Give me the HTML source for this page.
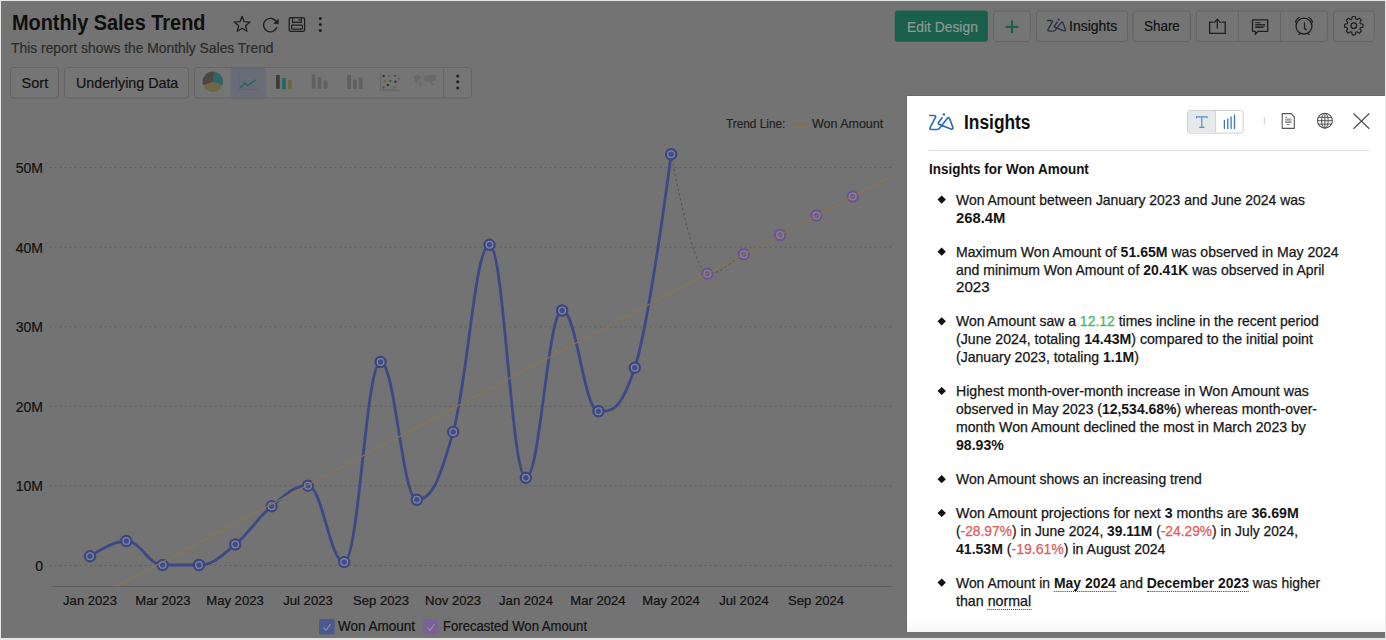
<!DOCTYPE html>
<html><head><meta charset="utf-8"><title>Monthly Sales Trend</title>
<style>
html,body{margin:0;padding:0;width:1386px;height:640px;overflow:hidden;background:#e6e6e6;font-family:"Liberation Sans",sans-serif}
#app{position:absolute;left:1px;top:1px;width:1384px;height:637px;background:#737373;overflow:hidden}
#wrap{position:absolute;left:-1px;top:-1px;width:1386px;height:640px}
.t{position:absolute;white-space:nowrap;transform-origin:0 0;line-height:1;-webkit-text-stroke-width:0.2px}
.abs{position:absolute}
b{-webkit-text-stroke-width:0 !important}
</style></head><body>
<div id="app"><div id="wrap">
<div class="t" id="title" style="left:11.80px;top:11.67px;font-size:22px;color:#0e0e0e;font-weight:bold;transform:scaleX(0.9042);-webkit-text-stroke-width:0;">Monthly Sales Trend</div>
<div class="t" id="sub" style="left:11.30px;top:40.92px;font-size:14.5px;color:#2b2b2b;font-weight:normal;transform:scaleX(0.9553);">This report shows the Monthly Sales Trend</div>
<svg class="abs" width="1386" height="640" viewBox="0 0 1386 640" style="left:0;top:0">
<line x1="49.5" y1="565.4" x2="891.5" y2="565.4" stroke="#5e5e5e" stroke-width="1" stroke-dasharray="2,3"/>
<line x1="49.5" y1="485.8" x2="891.5" y2="485.8" stroke="#5e5e5e" stroke-width="1" stroke-dasharray="2,3"/>
<line x1="49.5" y1="406.1" x2="891.5" y2="406.1" stroke="#5e5e5e" stroke-width="1" stroke-dasharray="2,3"/>
<line x1="49.5" y1="326.9" x2="891.5" y2="326.9" stroke="#5e5e5e" stroke-width="1" stroke-dasharray="2,3"/>
<line x1="49.5" y1="247.2" x2="891.5" y2="247.2" stroke="#5e5e5e" stroke-width="1" stroke-dasharray="2,3"/>
<line x1="49.5" y1="167.5" x2="891.5" y2="167.5" stroke="#5e5e5e" stroke-width="1" stroke-dasharray="2,3"/>
<line x1="52" y1="586.5" x2="891.5" y2="586.5" stroke="#5f5f5f" stroke-width="1"/>
<path d="M671.12 154.25 C671.12 154.25 692.91 273.75 707.44 273.75 C721.97 273.75 729.23 262.00 743.76 254.25 C758.29 246.50 765.55 242.75 780.08 235.00 C794.61 227.25 801.87 223.20 816.40 215.50 C830.93 207.80 852.72 196.50 852.72 196.50" fill="none" stroke="#555" stroke-width="1" stroke-dasharray="2.5,2.5"/>
<path d="M90.00 556.30 C90.00 556.30 111.79 541.00 126.32 541.00 C140.85 541.00 148.11 565.00 162.64 565.00 C177.17 565.00 184.43 565.00 198.96 565.00 C213.49 565.00 220.75 556.24 235.28 544.50 C249.81 532.76 257.07 518.06 271.60 506.30 C286.13 494.54 293.39 485.70 307.92 485.70 C322.45 485.70 329.71 562.10 344.24 562.10 C358.77 562.10 366.03 362.00 380.56 362.00 C395.09 362.00 402.35 499.80 416.88 499.80 C431.41 499.80 438.67 482.90 453.20 431.90 C467.73 380.90 474.99 244.80 489.52 244.80 C504.05 244.80 511.31 477.80 525.84 477.80 C540.37 477.80 547.63 310.50 562.16 310.50 C576.69 310.50 583.95 411.25 598.48 411.25 C613.01 411.25 620.27 411.25 634.80 367.70 C649.33 324.15 671.12 154.25 671.12 154.25" fill="none" stroke="#3b4a86" stroke-width="2.8"/>
<circle cx="90.00" cy="556.3" r="5.1" fill="#80859a" stroke="#3b467f" stroke-width="2.2"/><circle cx="90.00" cy="556.3" r="2.7" fill="#414c8e"/>
<circle cx="126.32" cy="541" r="5.1" fill="#80859a" stroke="#3b467f" stroke-width="2.2"/><circle cx="126.32" cy="541" r="2.7" fill="#414c8e"/>
<circle cx="162.64" cy="565" r="5.1" fill="#80859a" stroke="#3b467f" stroke-width="2.2"/><circle cx="162.64" cy="565" r="2.7" fill="#414c8e"/>
<circle cx="198.96" cy="565" r="5.1" fill="#80859a" stroke="#3b467f" stroke-width="2.2"/><circle cx="198.96" cy="565" r="2.7" fill="#414c8e"/>
<circle cx="235.28" cy="544.5" r="5.1" fill="#80859a" stroke="#3b467f" stroke-width="2.2"/><circle cx="235.28" cy="544.5" r="2.7" fill="#414c8e"/>
<circle cx="271.60" cy="506.3" r="5.1" fill="#80859a" stroke="#3b467f" stroke-width="2.2"/><circle cx="271.60" cy="506.3" r="2.7" fill="#414c8e"/>
<circle cx="307.92" cy="485.7" r="5.1" fill="#80859a" stroke="#3b467f" stroke-width="2.2"/><circle cx="307.92" cy="485.7" r="2.7" fill="#414c8e"/>
<circle cx="344.24" cy="562.1" r="5.1" fill="#80859a" stroke="#3b467f" stroke-width="2.2"/><circle cx="344.24" cy="562.1" r="2.7" fill="#414c8e"/>
<circle cx="380.56" cy="362" r="5.1" fill="#80859a" stroke="#3b467f" stroke-width="2.2"/><circle cx="380.56" cy="362" r="2.7" fill="#414c8e"/>
<circle cx="416.88" cy="499.8" r="5.1" fill="#80859a" stroke="#3b467f" stroke-width="2.2"/><circle cx="416.88" cy="499.8" r="2.7" fill="#414c8e"/>
<circle cx="453.20" cy="431.9" r="5.1" fill="#80859a" stroke="#3b467f" stroke-width="2.2"/><circle cx="453.20" cy="431.9" r="2.7" fill="#414c8e"/>
<circle cx="489.52" cy="244.8" r="5.1" fill="#80859a" stroke="#3b467f" stroke-width="2.2"/><circle cx="489.52" cy="244.8" r="2.7" fill="#414c8e"/>
<circle cx="525.84" cy="477.8" r="5.1" fill="#80859a" stroke="#3b467f" stroke-width="2.2"/><circle cx="525.84" cy="477.8" r="2.7" fill="#414c8e"/>
<circle cx="562.16" cy="310.5" r="5.1" fill="#80859a" stroke="#3b467f" stroke-width="2.2"/><circle cx="562.16" cy="310.5" r="2.7" fill="#414c8e"/>
<circle cx="598.48" cy="411.25" r="5.1" fill="#80859a" stroke="#3b467f" stroke-width="2.2"/><circle cx="598.48" cy="411.25" r="2.7" fill="#414c8e"/>
<circle cx="634.80" cy="367.7" r="5.1" fill="#80859a" stroke="#3b467f" stroke-width="2.2"/><circle cx="634.80" cy="367.7" r="2.7" fill="#414c8e"/>
<circle cx="671.12" cy="154.25" r="5.1" fill="#80859a" stroke="#3b467f" stroke-width="2.2"/><circle cx="671.12" cy="154.25" r="2.7" fill="#414c8e"/>
<circle cx="707.44" cy="273.75" r="5.1" fill="#898597" stroke="#6c5590" stroke-width="2.2"/><circle cx="707.44" cy="273.75" r="2.7" fill="#6a5898"/>
<circle cx="743.76" cy="254.25" r="5.1" fill="#898597" stroke="#6c5590" stroke-width="2.2"/><circle cx="743.76" cy="254.25" r="2.7" fill="#6a5898"/>
<circle cx="780.08" cy="235" r="5.1" fill="#898597" stroke="#6c5590" stroke-width="2.2"/><circle cx="780.08" cy="235" r="2.7" fill="#6a5898"/>
<circle cx="816.40" cy="215.5" r="5.1" fill="#898597" stroke="#6c5590" stroke-width="2.2"/><circle cx="816.40" cy="215.5" r="2.7" fill="#6a5898"/>
<circle cx="852.72" cy="196.5" r="5.1" fill="#898597" stroke="#6c5590" stroke-width="2.2"/><circle cx="852.72" cy="196.5" r="2.7" fill="#6a5898"/>
<line x1="117" y1="586" x2="891.3" y2="176.3" stroke="#8a7650" stroke-width="1.1"/>
<line x1="794" y1="124" x2="808.5" y2="124" stroke="#8a6f3c" stroke-width="2"/>
<rect x="319" y="619" width="15.5" height="15.5" rx="1.5" fill="#4b5a8e"/><path d="M323.5 627.5 l2.5 3 l4.5 -6.5" fill="none" stroke="#9aa3c0" stroke-width="1"/>
<rect x="423" y="619" width="15.5" height="15.5" rx="1.5" fill="#7b6296"/><path d="M427.5 627.5 l2.5 3 l4.5 -6.5" fill="none" stroke="#a796b8" stroke-width="1"/>
</svg>
<div class="t yl" style="right:1343px;top:558.85px;font-size:14px;color:#111">0</div>
<div class="t yl" style="right:1343px;top:479.25px;font-size:14px;color:#111">10M</div>
<div class="t yl" style="right:1343px;top:399.55px;font-size:14px;color:#111">20M</div>
<div class="t yl" style="right:1343px;top:320.35px;font-size:14px;color:#111">30M</div>
<div class="t yl" style="right:1343px;top:240.65px;font-size:14px;color:#111">40M</div>
<div class="t yl" style="right:1343px;top:160.95px;font-size:14px;color:#111">50M</div>
<div class="t xl" style="left:30.00px;width:120px;text-align:center;top:593.87px;font-size:13.5px;color:#111;transform:scaleX(0.97);transform-origin:50% 0">Jan 2023</div>
<div class="t xl" style="left:102.64px;width:120px;text-align:center;top:593.87px;font-size:13.5px;color:#111;transform:scaleX(0.97);transform-origin:50% 0">Mar 2023</div>
<div class="t xl" style="left:175.28px;width:120px;text-align:center;top:593.87px;font-size:13.5px;color:#111;transform:scaleX(0.97);transform-origin:50% 0">May 2023</div>
<div class="t xl" style="left:247.92px;width:120px;text-align:center;top:593.87px;font-size:13.5px;color:#111;transform:scaleX(0.97);transform-origin:50% 0">Jul 2023</div>
<div class="t xl" style="left:320.56px;width:120px;text-align:center;top:593.87px;font-size:13.5px;color:#111;transform:scaleX(0.97);transform-origin:50% 0">Sep 2023</div>
<div class="t xl" style="left:393.20px;width:120px;text-align:center;top:593.87px;font-size:13.5px;color:#111;transform:scaleX(0.97);transform-origin:50% 0">Nov 2023</div>
<div class="t xl" style="left:465.84px;width:120px;text-align:center;top:593.87px;font-size:13.5px;color:#111;transform:scaleX(0.97);transform-origin:50% 0">Jan 2024</div>
<div class="t xl" style="left:538.48px;width:120px;text-align:center;top:593.87px;font-size:13.5px;color:#111;transform:scaleX(0.97);transform-origin:50% 0">Mar 2024</div>
<div class="t xl" style="left:611.12px;width:120px;text-align:center;top:593.87px;font-size:13.5px;color:#111;transform:scaleX(0.97);transform-origin:50% 0">May 2024</div>
<div class="t xl" style="left:683.76px;width:120px;text-align:center;top:593.87px;font-size:13.5px;color:#111;transform:scaleX(0.97);transform-origin:50% 0">Jul 2024</div>
<div class="t xl" style="left:756.40px;width:120px;text-align:center;top:593.87px;font-size:13.5px;color:#111;transform:scaleX(0.97);transform-origin:50% 0">Sep 2024</div>
<div class="t" id="tl1" style="left:725.50px;top:117.49px;font-size:13px;color:#222;font-weight:normal;transform:scaleX(0.9092);">Trend Line:</div>
<div class="t" id="tl2" style="left:811.80px;top:117.49px;font-size:13px;color:#222;font-weight:normal;transform:scaleX(0.9595);">Won Amount</div>
<div class="t" id="lg1" style="left:338.10px;top:619.45px;font-size:14px;color:#111;font-weight:normal;transform:scaleX(0.9650);">Won Amount</div>
<div class="t" id="lg2" style="left:442.70px;top:619.45px;font-size:14px;color:#111;font-weight:normal;transform:scaleX(0.9364);">Forecasted Won Amount</div>
<svg class="abs" width="1386" height="110" viewBox="0 0 1386 110" style="left:0;top:0">
<polygon points="242.10,16.30 244.22,21.69 249.99,22.04 245.52,25.71 246.98,31.31 242.10,28.20 237.22,31.31 238.68,25.71 234.21,22.04 239.98,21.69" fill="none" stroke="#1f1f1f" stroke-width="1.3" stroke-linejoin="round"/>
<path d="M276.6 22.4 A6.8 6.8 0 1 0 276.9 27" fill="none" stroke="#1f1f1f" stroke-width="1.3"/>
<path d="M278.6 18.4 L278.6 24.2 L273.2 23.6 Z" fill="#1f1f1f"/>
<rect x="289.2" y="17.6" width="15.4" height="13.8" rx="1.6" fill="none" stroke="#1f1f1f" stroke-width="1.3"/>
<path d="M292.6 17.6 V22.4 H301.4 V17.6" fill="none" stroke="#1f1f1f" stroke-width="1.2"/>
<rect x="298.6" y="19" width="1.6" height="1.6" fill="#1f1f1f"/>
<rect x="291.6" y="25.2" width="10.8" height="4" rx="0.8" fill="none" stroke="#1f1f1f" stroke-width="1.2"/>
<circle cx="320.3" cy="18.6" r="1.5" fill="#1f1f1f"/>
<circle cx="320.3" cy="24.6" r="1.5" fill="#1f1f1f"/>
<circle cx="320.3" cy="30.6" r="1.5" fill="#1f1f1f"/>
<rect x="10.5" y="67.5" width="48" height="30.5" rx="3" fill="#757575" stroke="#646464" stroke-width="1"/>
<rect x="64.5" y="67.5" width="124" height="30.5" rx="3" fill="#757575" stroke="#646464" stroke-width="1"/>
<rect x="194.5" y="67.5" width="277" height="30.5" rx="3" fill="#757575" stroke="#646464" stroke-width="1"/>
<rect x="230.6" y="68" width="35.2" height="29.5" fill="#686c78"/>
<line x1="443.6" y1="68" x2="443.6" y2="97.5" stroke="#646464" stroke-width="1"/>
<path d="M212.8 81.8 L214.57 71.75 A10.2 10.2 0 0 1 222.38 85.29 Z" fill="#2e6468"/>
<path d="M212.8 81.8 L222.38 85.29 A10.2 10.2 0 0 1 203.22 85.29 Z" fill="#6e6645"/>
<path d="M212.8 81.8 L203.22 85.29 A10.2 10.2 0 0 1 214.57 71.75 Z" fill="#4f4644"/>
<path d="M238.8 73 V89.3 H258.2" fill="none" stroke="#5f636c" stroke-width="0.8"/>
<path d="M240 88 L244.7 83.1 L247.9 85.6 L255.5 79.9" fill="none" stroke="#2d6264" stroke-width="1.6"/>
<rect x="276" y="75" width="3.8" height="13.8" fill="#40393a"/>
<rect x="282" y="78" width="3.8" height="11.3" fill="#2c6466"/>
<rect x="288" y="80" width="3.8" height="9.3" fill="#6e6642"/>
<rect x="311.8" y="74.4" width="3.7" height="14.4" fill="#616161"/>
<rect x="317.7" y="77.2" width="3.7" height="11.6" fill="#616161"/>
<rect x="323.7" y="80.4" width="3.7" height="8.4" fill="#616161"/>
<rect x="347.3" y="75" width="3.8" height="14" fill="#606060"/><rect x="353" y="79.5" width="3.8" height="9.5" fill="#606060"/><rect x="358.8" y="77.5" width="3.8" height="11.5" fill="#606060"/>
<path d="M380.3 73.4 V90.1 H400.3" fill="none" stroke="#5e5e5e" stroke-width="0.8"/>
<circle cx="383.57" cy="76.07" r="1.2" fill="#333"/>
<circle cx="388.98" cy="75.85" r="1.2" fill="#6a6340"/>
<circle cx="394.94" cy="75.85" r="1.2" fill="#2a5f66"/>
<circle cx="398.72" cy="78.77" r="1.2" fill="#6a6340"/>
<circle cx="384.65" cy="81.26" r="1.2" fill="#6a6340"/>
<circle cx="390.39" cy="80.94" r="1.2" fill="#2a5f50"/>
<circle cx="395.48" cy="81.70" r="1.2" fill="#333"/>
<circle cx="387.90" cy="84.94" r="1.2" fill="#333"/>
<circle cx="383.57" cy="87.43" r="1.2" fill="#2a5f66"/>
<circle cx="394.39" cy="87.43" r="1.2" fill="#6a6340"/>
<path d="M413.5 76 q4 -1.5 8 0 l-1 3 l-3 1 l0 3 l-2 -1 l-1 -3 z M419.5 82 l2.5 1 l-0.8 4.5 l-1.6 -1.5 z M423.5 76 q6 -2 13.5 0 l-1 3.5 l-3 1 l-2 3 l-2 -2 l-3 0.5 l-2 -2 z M431.5 83 l2 0.5 l-0.5 2 l-1.5 -0.5 z" fill="#676969"/>
<circle cx="457.7" cy="75.9" r="1.5" fill="#1f1f1f"/>
<circle cx="457.7" cy="81.8" r="1.5" fill="#1f1f1f"/>
<circle cx="457.7" cy="88" r="1.5" fill="#1f1f1f"/>
<rect x="894.8" y="10.5" width="93" height="31.2" rx="3" fill="#1a604d"/>
<rect x="993.5" y="11" width="36.8" height="30.4" rx="3" fill="#757575" stroke="#646464" stroke-width="1"/>
<path d="M1012 20.6 V33 M1005.6 26.8 H1018.4" stroke="#1a5f49" stroke-width="2.2"/>
<rect x="1036.5" y="11" width="91" height="30.4" rx="3" fill="#757575" stroke="#646464" stroke-width="1"/>
<rect x="1133" y="11" width="57.4" height="30.4" rx="3" fill="#757575" stroke="#646464" stroke-width="1"/>
<rect x="1196.4" y="11" width="131" height="30.4" rx="3" fill="#757575" stroke="#646464" stroke-width="1"/>
<line x1="1238.4" y1="11" x2="1238.4" y2="41.4" stroke="#646464"/><line x1="1280.6" y1="11" x2="1280.6" y2="41.4" stroke="#646464"/>
<rect x="1333.5" y="11" width="40.8" height="30.4" rx="3" fill="#757575" stroke="#646464" stroke-width="1"/>
<g transform="translate(1047.2 19.6) scale(0.765) translate(-929 -114.4)"><path d="M942.1 117.8 L938.6 122.4 Q937.8 123.9 939.3 124.4 L950.9 129 Q953.4 129.7 952.8 127.2 L949.7 118.8 Q948.6 116.6 947.2 118.4 L940.2 127.6 Q938.8 129.5 937.2 129.5 L931.6 129.5 Q929.1 129.5 930.2 127.3 L935.3 117.7 Q936.3 115.5 934.1 115.5 L929.7 115.5" fill="none" stroke="#2b3342" stroke-width="1.8" stroke-linejoin="round" stroke-linecap="round"/><circle cx="943.9" cy="114.5" r="1.4" fill="#2b3342"/></g>
<path d="M1213 22.2 H1209.6 V33.4 H1225.2 V22.2 H1221.6 M1217.3 28.6 V19.6 M1213.8 22.9 L1217.3 19.4 L1220.8 22.9" fill="none" stroke="#1f1f1f" stroke-width="1.3"/>
<path d="M1252.5 19.8 H1267.7 V31.3 H1258.2 L1255.4 34.2 V31.3 H1252.5 Z" fill="none" stroke="#1f1f1f" stroke-width="1.3" stroke-linejoin="round"/>
<path d="M1255.2 22.7 H1260.4 M1255.2 24.6 H1265.1 M1255.2 26.1 H1265.1 M1255.2 27.5 H1263.4" stroke="#1f1f1f" stroke-width="1"/>
<circle cx="1304" cy="26.1" r="8" fill="none" stroke="#1f1f1f" stroke-width="1.3"/>
<path d="M1304.5 22.5 V28.6 L1306.8 30.1" fill="none" stroke="#1f1f1f" stroke-width="1.2"/>
<path d="M1295.3 22.6 Q1296.2 18.6 1299.6 17.3 M1312.7 22.6 Q1311.8 18.6 1308.4 17.3 M1299.6 33.4 L1298.6 34.9 M1308.4 33.4 L1309.4 34.9" fill="none" stroke="#1f1f1f" stroke-width="1.2"/>
<path d="M1351.78 19.10 L1352.35 16.51 L1355.25 16.51 L1355.82 19.10 L1357.04 19.61 L1359.27 18.18 L1361.32 20.23 L1359.89 22.46 L1360.40 23.68 L1362.99 24.25 L1362.99 27.15 L1360.40 27.72 L1359.89 28.94 L1361.32 31.17 L1359.27 33.22 L1357.04 31.79 L1355.82 32.30 L1355.25 34.89 L1352.35 34.89 L1351.78 32.30 L1350.56 31.79 L1348.33 33.22 L1346.28 31.17 L1347.71 28.94 L1347.20 27.72 L1344.61 27.15 L1344.61 24.25 L1347.20 23.68 L1347.71 22.46 L1346.28 20.23 L1348.33 18.18 L1350.56 19.61 Z" fill="none" stroke="#1f1f1f" stroke-width="1.2" stroke-linejoin="round"/>
<circle cx="1353.8" cy="25.7" r="2.8" fill="none" stroke="#1f1f1f" stroke-width="1.3"/>
</svg>
<div class="t" id="sort" style="left:21.60px;top:75.72px;font-size:14.5px;color:#111;font-weight:normal;">Sort</div>
<div class="t" id="ud" style="left:75.70px;top:75.72px;font-size:14.5px;color:#111;font-weight:normal;transform:scaleX(0.9837);">Underlying Data</div>
<div class="t" id="ed" style="left:906.50px;top:19.40px;font-size:15px;color:#8d9a94;font-weight:normal;transform:scaleX(0.9234);">Edit Design</div>
<div class="t" id="ins" style="left:1069.00px;top:19.02px;font-size:14.5px;color:#111;font-weight:normal;transform:scaleX(0.9640);">Insights</div>
<div class="t" id="share" style="left:1144.30px;top:19.02px;font-size:14.5px;color:#111;font-weight:normal;transform:scaleX(0.9256);">Share</div>
<div class="abs" style="left:906px;top:95.4px;width:479.7px;height:537.1px;background:#6b6b6b"></div><div class="abs" style="left:907px;top:96.4px;width:477.7px;height:535.1px;background:#fff"></div>
<div class="abs" style="left:907px;top:617px;width:477.7px;height:14.5px;background:linear-gradient(#fff,#f6f6f6)"></div>
<svg class="abs" width="480" height="540" viewBox="906 96 480 540" style="left:906px;top:96px">
<path d="M942.1 117.8 L938.6 122.4 Q937.8 123.9 939.3 124.4 L950.9 129 Q953.4 129.7 952.8 127.2 L949.7 118.8 Q948.6 116.6 947.2 118.4 L940.2 127.6 Q938.8 129.5 937.2 129.5 L931.6 129.5 Q929.1 129.5 930.2 127.3 L935.3 117.7 Q936.3 115.5 934.1 115.5 L929.7 115.5" fill="none" stroke="#2f6db5" stroke-width="1.7" stroke-linejoin="round" stroke-linecap="round"/>
<circle cx="943.9" cy="114.5" r="1.3" fill="#2f6db5"/>
<rect x="1187.5" y="110.5" width="55.6" height="22.6" rx="2.5" fill="#fff" stroke="#cfcfcf" stroke-width="1"/>
<path d="M1190 111 H1215.6 V132.6 H1190 Q1188 132.6 1188 130.6 V113 Q1188 111 1190 111 Z" fill="#e6e8ec"/>
<line x1="1215.6" y1="111" x2="1215.6" y2="132.6" stroke="#d0d0d0"/>
<path d="M1196.6 118.3 V116.8 H1207 V118.3 M1201.8 116.8 V127.3 M1199.2 127.3 H1204.4" fill="none" stroke="#5a8ccb" stroke-width="1.2"/>
<line x1="1224.4" y1="120.4" x2="1224.4" y2="128.6" stroke="#3d76b3" stroke-width="1.3" stroke-linecap="round"/>
<line x1="1227.8" y1="119.2" x2="1227.8" y2="128.6" stroke="#3d76b3" stroke-width="1.3" stroke-linecap="round"/>
<line x1="1231.1" y1="117" x2="1231.1" y2="128.6" stroke="#3d76b3" stroke-width="1.3" stroke-linecap="round"/>
<line x1="1234.5" y1="114.8" x2="1234.5" y2="128.6" stroke="#3d76b3" stroke-width="1.3" stroke-linecap="round"/>
<line x1="1264.3" y1="117.3" x2="1264.3" y2="124.5" stroke="#cfcfcf" stroke-width="1"/>
<path d="M1282.2 113.6 H1291 L1294.3 116.9 V128.4 H1282.2 Z" fill="none" stroke="#555" stroke-width="1.1" stroke-linejoin="round"/>
<path d="M1285.2 117.3 H1287 M1285.2 119.2 H1291.5 M1285.2 121 H1291.5 M1285.2 122.4 H1291.5 M1286.6 124.5 H1289.7" stroke="#666" stroke-width="0.9"/>
<circle cx="1324.9" cy="120.7" r="7.4" fill="none" stroke="#555" stroke-width="1.1"/>
<ellipse cx="1324.9" cy="120.7" rx="3.3" ry="7.4" fill="none" stroke="#555" stroke-width="1"/>
<path d="M1324.9 113.3 V128.1 M1317.5 120.7 H1332.3 M1318.8 117.3 H1331 M1318.8 124.1 H1331" stroke="#555" stroke-width="1"/>
<path d="M1353.5 113.5 L1369.3 128.8 M1369.3 113.5 L1353.5 128.8" stroke="#555" stroke-width="1.3"/>
<line x1="928.8" y1="150.5" x2="1369.2" y2="150.5" stroke="#dcdcdc" stroke-width="1"/>
<path d="M941.7 195.50 L945.9 199.60 L941.7 203.70 L937.5 199.60 Z" fill="#111"/>
<path d="M941.7 247.60 L945.9 251.70 L941.7 255.80 L937.5 251.70 Z" fill="#111"/>
<path d="M941.7 317.20 L945.9 321.30 L941.7 325.40 L937.5 321.30 Z" fill="#111"/>
<path d="M941.7 386.90 L945.9 391.00 L941.7 395.10 L937.5 391.00 Z" fill="#111"/>
<path d="M941.7 475.10 L945.9 479.20 L941.7 483.30 L937.5 479.20 Z" fill="#111"/>
<path d="M941.7 508.90 L945.9 513.00 L941.7 517.10 L937.5 513.00 Z" fill="#111"/>
<path d="M941.7 578.50 L945.9 582.60 L941.7 586.70 L937.5 582.60 Z" fill="#111"/>
</svg>
<div class="t" id="ptitle" style="left:964.20px;top:111.67px;font-size:20px;color:#111;font-weight:bold;transform:scaleX(0.8675);-webkit-text-stroke-width:0;">Insights</div>
<div class="t" id="phead" style="left:928.90px;top:161.52px;font-size:14.5px;color:#111;font-weight:bold;transform:scaleX(0.9273);-webkit-text-stroke-width:0;">Insights for Won Amount</div>
<div class="t" id="p1a" style="left:956.10px;top:192.72px;font-size:14.5px;color:#161616;font-weight:normal;transform:scaleX(0.9606);-webkit-text-stroke-width:0.25px;">Won Amount between January 2023 and June 2024 was</div>
<div class="t" id="p1b" style="left:956.10px;top:210.82px;font-size:14.5px;color:#161616;font-weight:normal;transform:scaleX(1.0229);-webkit-text-stroke-width:0.25px;"><b>268.4M</b></div>
<div class="t" id="p2a" style="left:956.10px;top:244.82px;font-size:14.5px;color:#161616;font-weight:normal;transform:scaleX(0.9696);-webkit-text-stroke-width:0.25px;">Maximum Won Amount of <b>51.65M</b> was observed in May 2024</div>
<div class="t" id="p2b" style="left:956.10px;top:262.62px;font-size:14.5px;color:#161616;font-weight:normal;transform:scaleX(0.9649);-webkit-text-stroke-width:0.25px;">and minimum Won Amount of <b>20.41K</b> was observed in April</div>
<div class="t" id="p2c" style="left:956.10px;top:280.42px;font-size:14.5px;color:#161616;font-weight:normal;transform:scaleX(1.0406);-webkit-text-stroke-width:0.25px;">2023</div>
<div class="t" id="p3a" style="left:956.10px;top:314.42px;font-size:14.5px;color:#161616;font-weight:normal;transform:scaleX(0.9626);-webkit-text-stroke-width:0.25px;">Won Amount saw a <span style="color:#3dba5e">12.12</span> times incline in the recent period</div>
<div class="t" id="p3b" style="left:956.10px;top:332.42px;font-size:14.5px;color:#161616;font-weight:normal;transform:scaleX(0.9751);-webkit-text-stroke-width:0.25px;">(June 2024, totaling <b>14.43M</b>) compared to the initial point</div>
<div class="t" id="p3c" style="left:956.10px;top:350.42px;font-size:14.5px;color:#161616;font-weight:normal;transform:scaleX(0.9698);-webkit-text-stroke-width:0.25px;">(January 2023, totaling <b>1.1M</b>)</div>
<div class="t" id="p4a" style="left:956.10px;top:384.12px;font-size:14.5px;color:#161616;font-weight:normal;transform:scaleX(0.9735);-webkit-text-stroke-width:0.25px;">Highest month-over-month increase in Won Amount was</div>
<div class="t" id="p4b" style="left:956.10px;top:402.22px;font-size:14.5px;color:#161616;font-weight:normal;transform:scaleX(0.9631);-webkit-text-stroke-width:0.25px;">observed in May 2023 (<b>12,534.68%</b>) whereas month-over-</div>
<div class="t" id="p4c" style="left:956.10px;top:420.32px;font-size:14.5px;color:#161616;font-weight:normal;transform:scaleX(0.9719);-webkit-text-stroke-width:0.25px;">month Won Amount declined the most in March 2023 by</div>
<div class="t" id="p4d" style="left:956.10px;top:438.22px;font-size:14.5px;color:#161616;font-weight:normal;transform:scaleX(0.9735);-webkit-text-stroke-width:0.25px;"><b>98.93%</b></div>
<div class="t" id="p5a" style="left:956.10px;top:472.32px;font-size:14.5px;color:#161616;font-weight:normal;transform:scaleX(0.9633);-webkit-text-stroke-width:0.25px;">Won Amount shows an increasing trend</div>
<div class="t" id="p6a" style="left:956.10px;top:506.12px;font-size:14.5px;color:#161616;font-weight:normal;transform:scaleX(0.9783);-webkit-text-stroke-width:0.25px;">Won Amount projections for next <b>3</b> months are <b>36.69M</b></div>
<div class="t" id="p6b" style="left:956.10px;top:524.02px;font-size:14.5px;color:#161616;font-weight:normal;transform:scaleX(0.9511);-webkit-text-stroke-width:0.25px;">(<span style="color:#e05a5a">-28.97%</span>) in June 2024, <b>39.11M</b> (<span style="color:#e05a5a">-24.29%</span>) in July 2024,</div>
<div class="t" id="p6c" style="left:956.10px;top:541.82px;font-size:14.5px;color:#161616;font-weight:normal;transform:scaleX(0.9694);-webkit-text-stroke-width:0.25px;"><b>41.53M</b> (<span style="color:#e05a5a">-19.61%</span>) in August 2024</div>
<div class="t" id="p7a" style="left:956.10px;top:575.72px;font-size:14.5px;color:#161616;font-weight:normal;transform:scaleX(0.9595);-webkit-text-stroke-width:0.25px;">Won Amount in <b style="border-bottom:1px dotted #333">May 2024</b> and <b style="border-bottom:1px dotted #333">December 2023</b> was higher</div>
<div class="t" id="p7b" style="left:956.10px;top:593.52px;font-size:14.5px;color:#161616;font-weight:normal;transform:scaleX(0.9818);-webkit-text-stroke-width:0.25px;">than <span style="border-bottom:1px dotted #333">normal</span></div>

</div></div>
</body></html>
